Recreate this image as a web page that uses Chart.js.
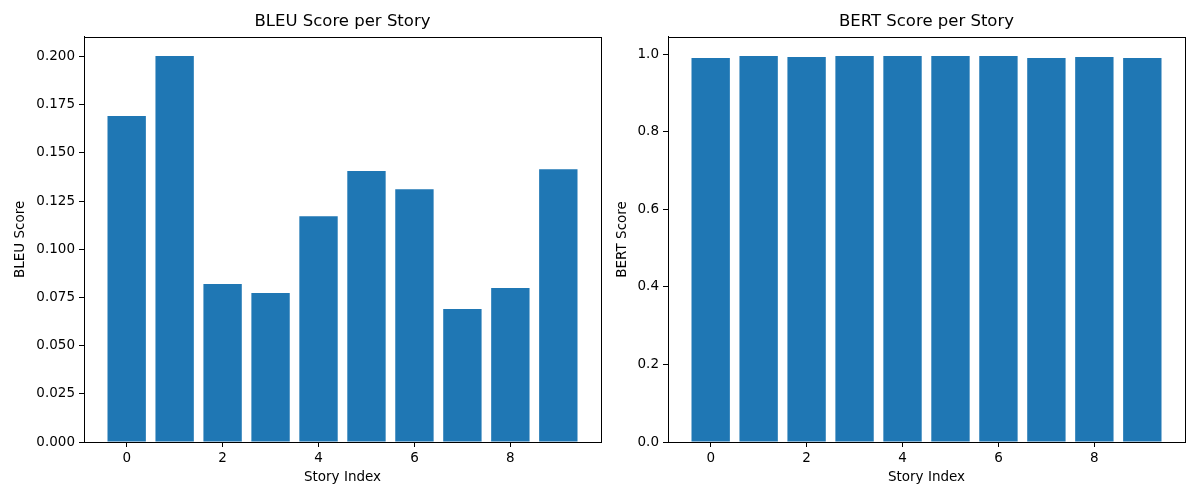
<!DOCTYPE html>
<html>
<head>
<meta charset="UTF-8">
<title>BLEU / BERT Score per Story</title>
<style>
    body { margin: 0; background: #fff; }
    .wrap { position: absolute; top: 0; height: 500px; }
    #leftWrap { left: 0; width: 610px; }
    #rightWrap { left: 610px; width: 590px; }
</style>
<script src="https://cdn.jsdelivr.net/npm/chart.js"></script>
</head>
<body>
<div class="wrap" id="leftWrap"><canvas id="bleuChart"></canvas></div>
<div class="wrap" id="rightWrap"><canvas id="bertChart"></canvas></div>
<script>
// data
const storyIndex = [0, 1, 2, 3, 4, 5, 6, 7, 8, 9];
const bleuScores = [0.1692, 0.2003, 0.0820, 0.0773, 0.1172, 0.1406, 0.1312, 0.0690, 0.0799, 0.1416];
const bertScores = [0.9897, 0.9948, 0.9923, 0.9948, 0.9948, 0.9948, 0.9948, 0.9897, 0.9923, 0.9897];
const xTicks = [0, 2, 4, 6, 8];
const bleuTicks = [0, 0.025, 0.05, 0.075, 0.1, 0.125, 0.15, 0.175, 0.2];
const bertTicks = [0, 0.2, 0.4, 0.6, 0.8, 1.0];

const FONT = 'DejaVu Sans';
const BLUE = '#1f77b4';

// draws the full box around the plot area like matplotlib spines
const frame = {
    id: 'frame',
    afterDatasetsDraw(chart) {
        const a = chart.chartArea, ctx = chart.ctx;
        ctx.save();
        ctx.strokeStyle = '#000';
        ctx.lineWidth = 1;
        ctx.strokeRect(Math.round(a.left) + 0.5, Math.round(a.top) + 0.5,
            Math.round(a.right - a.left), Math.round(a.bottom - a.top));
        ctx.restore();
    }
};

function makeChart(id, values, yTicks, yMax, digits, title, yLabel, yWidth, yTitlePad, rightPad) {
    const ctx = document.getElementById(id).getContext('2d');
    return new Chart(ctx, {
        type: 'bar',
        data: {
            datasets: [{
                data: storyIndex.map((x, i) => ({ x: x, y: values[i] })),
                backgroundColor: BLUE,
                borderColor: BLUE,
                borderWidth: 0,
                inflateAmount: 0,
                barPercentage: 0.8,
                categoryPercentage: 1.0
            }]
        },
        options: {
            responsive: true,
            maintainAspectRatio: false,
            animation: false,
            layout: { padding: { left: 0, right: rightPad, top: 0, bottom: 0 } },
            plugins: {
                legend: { display: false },
                tooltip: { enabled: false },
                title: {
                    display: true,
                    text: title,
                    fullSize: false,
                    color: '#000',
                    font: { family: FONT, size: 16.5, weight: 'normal' },
                    padding: { top: 12, bottom: 5 }
                }
            },
            scales: {
                x: {
                    type: 'linear',
                    offset: false,
                    min: -0.89,
                    max: 9.89,
                    afterBuildTicks: s => { s.ticks = xTicks.map(v => ({ value: v })); },
                    afterFit: s => { s.height = 58; },
                    grid: { offset: false, drawOnChartArea: false, drawTicks: true, tickLength: 5, color: '#000' },
                    border: { color: '#000', width: 1 },
                    ticks: { color: '#000', font: { family: FONT, size: 13.5 }, padding: 3, maxRotation: 0 },
                    title: {
                        display: true, text: 'Story Index', color: '#000',
                        font: { family: FONT, size: 13.5 }, padding: { top: 4, bottom: 14 }
                    }
                },
                y: {
                    min: 0,
                    max: yMax,
                    afterBuildTicks: s => { s.ticks = yTicks.map(v => ({ value: v })); },
                    afterFit: s => { s.width = yWidth; },
                    grid: { drawOnChartArea: false, drawTicks: true, tickLength: 5, color: '#000' },
                    border: { color: '#000', width: 1 },
                    ticks: {
                        color: '#000', font: { family: FONT, size: 13.5 }, padding: 4,
                        callback: v => Number(v).toFixed(digits)
                    },
                    title: {
                        display: true, text: yLabel, color: '#000',
                        font: { family: FONT, size: 13.5 }, padding: { top: yTitlePad, bottom: 0 }
                    }
                }
            }
        },
        plugins: [frame]
    });
}

makeChart('bleuChart', bleuScores, bleuTicks, 0.2103, 3, 'BLEU Score per Story', 'BLEU Score', 84, 12, 9);
makeChart('bertChart', bertScores, bertTicks, 1.0446, 1, 'BERT Score per Story', 'BERT Score', 58, 4, 15);
</script>
</body>
</html>
